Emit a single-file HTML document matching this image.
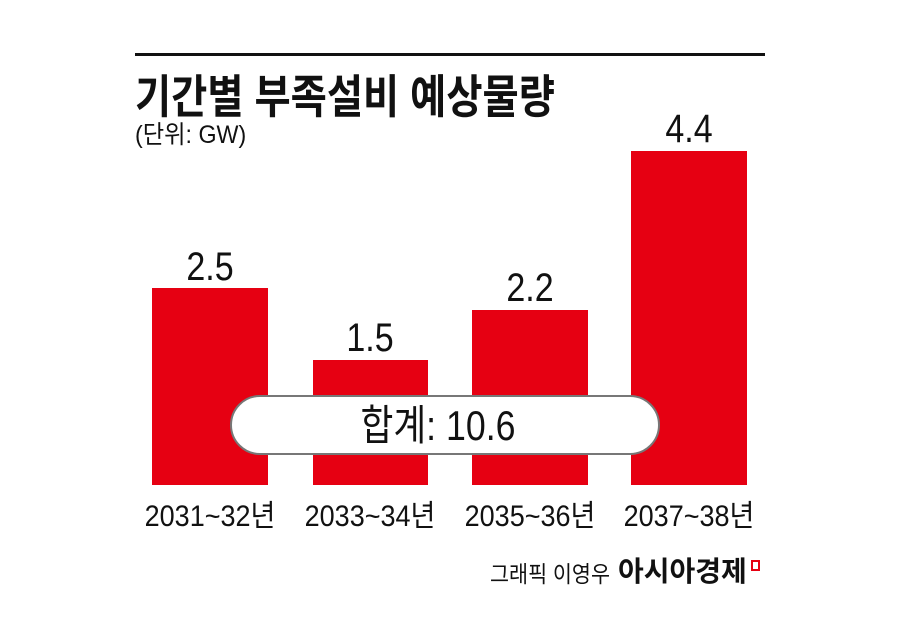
<!DOCTYPE html>
<html><head><meta charset="utf-8"><style>
body{margin:0;width:900px;height:626px;background:#fff;position:relative;overflow:hidden;font-family:"Liberation Sans","Noto Sans CJK KR",sans-serif;color:#111}
.a{position:absolute}
.bar{position:absolute;background:#e60012}
.t{position:absolute;white-space:nowrap;line-height:1}
.c{transform:translateX(-50%) scaleX(0.85);transform-origin:center}
.l{transform:scaleX(0.85);transform-origin:left}
</style></head><body>
<div class="a" style="left:135px;top:53px;width:630px;height:3px;background:#111"></div>
<div class="t l" style="left:135px;top:74px;font-size:46px;font-weight:bold;transform:scaleX(0.855)">기간별 부족설비 예상물량</div>
<div class="t l" style="left:135px;top:123px;font-size:25px;transform:scaleX(0.93)">(단위: GW)</div>

<div class="bar" style="left:152px;top:288px;width:116px;height:197px"></div>
<div class="bar" style="left:313px;top:360px;width:115px;height:125px"></div>
<div class="bar" style="left:472px;top:310px;width:116px;height:175px"></div>
<div class="bar" style="left:631px;top:151px;width:116px;height:334px"></div>

<div class="t c" style="left:210px;top:247px;font-size:40px">2.5</div>
<div class="t c" style="left:370px;top:318px;font-size:40px">1.5</div>
<div class="t c" style="left:530px;top:268px;font-size:40px">2.2</div>
<div class="t c" style="left:689px;top:109px;font-size:40px">4.4</div>

<div class="a" style="left:230px;top:395px;width:426px;height:56px;border:2px solid #777;border-radius:30px;background:#fff"></div>
<div class="t c" style="left:438px;top:405px;font-size:42px">합계: 10.6</div>

<div class="t c" style="left:210px;top:502px;font-size:30px;transform:translateX(-50%) scaleX(0.9)">2031~32년</div>
<div class="t c" style="left:370px;top:502px;font-size:30px;transform:translateX(-50%) scaleX(0.9)">2033~34년</div>
<div class="t c" style="left:530px;top:502px;font-size:30px;transform:translateX(-50%) scaleX(0.9)">2035~36년</div>
<div class="t c" style="left:689px;top:502px;font-size:30px;transform:translateX(-50%) scaleX(0.9)">2037~38년</div>

<div class="t l" style="left:490px;top:563px;font-size:23px;transform:scaleX(0.9)">그래픽 이영우</div>
<div class="t l" style="left:618px;top:558px;font-size:28px;font-weight:bold;transform:scaleX(1)">아시아경제</div>
<div class="a" style="left:751px;top:560px;width:5px;height:7px;border:2px solid #e60012;background:#fff"></div>
</body></html>
